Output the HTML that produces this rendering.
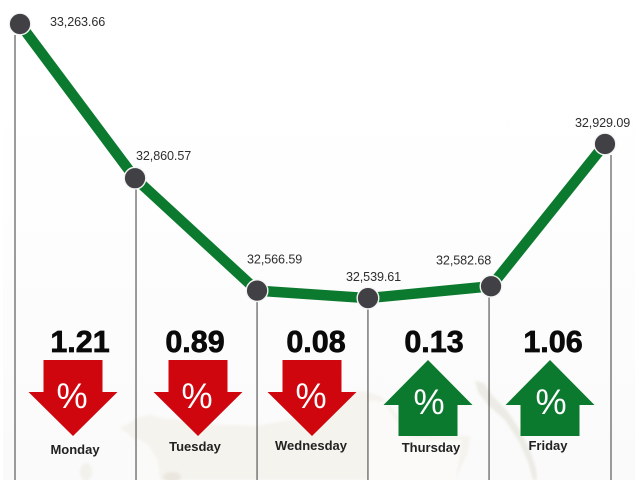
<!DOCTYPE html>
<html lang="en">
<head>
<meta charset="utf-8">
<title>Weekly index chart</title>
<style>
html,body{margin:0;padding:0;background:#fff;}
#chart{display:block;width:640px;height:480px;font-family:"Liberation Sans",sans-serif;}
</style>
</head>
<body>
<svg id="chart" width="640" height="480" viewBox="0 0 640 480" xmlns="http://www.w3.org/2000/svg">
  <defs>
    <filter id="soft" x="-5%" y="-5%" width="110%" height="110%"><feGaussianBlur stdDeviation="1.2"/></filter>
    <linearGradient id="panelFade" x1="0" y1="0" x2="0" y2="1">
      <stop offset="0" stop-color="#ffffff"/>
      <stop offset="1" stop-color="#fafafa"/>
    </linearGradient>
  </defs>
  <rect x="0" y="0" width="640" height="480" fill="#ffffff"/>
  <rect x="3" y="100" width="632" height="380" fill="url(#panelFade)"/>
  <g filter="url(#soft)">
    <path fill="#f5f3ee" d="M120 428 L128 424 L137 418 L150 415 L165 419 L185 420 L200 424 L225 425 L256 426 L290 420 L320 405 L345 393 L365 391 L382 397 L392 408 L410 432 L440 436 L470 436 L468 452 L462 465 L456 480 L160 480 L158 460 L148 445 L137 438 L130 432 Z"/>
    <path fill="#fafaf8" d="M137 440 L150 448 L158 462 L160 480 L137 480 Z"/>
    <path fill="#fbfaf8" d="M368 400 L384 402 L396 420 L410 438 L440 440 L462 440 L456 480 L368 480 Z"/>
    <path fill="#ecebe5" d="M475 381 L484 383 L492 395 L508 412 L520 430 L530 450 L536 468 L537 480 L533 480 L528 462 L518 440 L505 420 L488 405 L478 392 Z"/>
    <path fill="#f5f3ee" d="M120 428 L136 420 L136 442 L128 434 Z"/>
    <ellipse cx="86" cy="472" rx="6" ry="9" fill="#f3f1ec"/>
    <ellipse cx="172" cy="477" rx="9" ry="5" fill="#e9e7de"/>
  </g>
  <g id="dividers"></g>
  <g id="trend"></g>
  <g id="dots"></g>
  <g id="pointLabels"></g>
  <g id="changes"></g>
</svg>
<script>
// Chart data
const days = ["Monday", "Tuesday", "Wednesday", "Thursday", "Friday"];
const sessionLabels = ["33,263.66", "32,860.57", "32,566.59", "32,539.61", "32,582.68", "32,929.09"];
// Plotted levels and session times (the artwork is hand-placed).
const plottedLevels = [33263.66, 32860.57, 32566.59, 32547, 32578, 32950];
const sessionTimes = [0, 0.983, 2.026, 2.974, 4.026, 5];
const changeValues = [1.21, 0.89, 0.08, 0.13, 1.06];
const changeDirections = ["down", "down", "down", "up", "up"];

// Axis functions
function xAxis(t) { return 20 + t * 117; }
function yAxis(v) { return 24 + (33263.66 - v) * 0.3825; }

// Layout constants (not data)
const dividerShift = [-5, 1, 0, 0, -2, 6];
const labelOffsetX = [30, 1, -10, -22, -55, -30];
const labelOffsetY = [2, -18, -27, -17, -22, -17];
const changeCenters = [73, 198, 312, 428, 550];
const valueCenters = [80, 195, 316, 434, 553];
const dayCenters = [75, 195, 311, 431, 548];
const dayBaselines = [454, 451, 450, 452, 450];

const NS = "http://www.w3.org/2000/svg";
function make(parent, tag, attrs, text) {
  const el = document.createElementNS(NS, tag);
  Object.keys(attrs).forEach(function (k) { el.setAttribute(k, attrs[k]); });
  if (text !== undefined) el.textContent = text;
  parent.appendChild(el);
  return el;
}

const dividerGroup = document.getElementById("dividers");
const trendGroup = document.getElementById("trend");
const dotGroup = document.getElementById("dots");
const labelGroup = document.getElementById("pointLabels");
const changeGroup = document.getElementById("changes");

plottedLevels.forEach(function (level, i) {
  const x = xAxis(sessionTimes[i]);
  const y = yAxis(level);

  const rule = make(dividerGroup, "line", {
    x1: x + dividerShift[i], y1: y + 11, x2: x + dividerShift[i], y2: 480,
    stroke: "#3a3a3a", "stroke-width": 1
  });
  
  

  if (i > 0) {
    const seg = make(trendGroup, "line", {
      x1: xAxis(sessionTimes[i - 1]), y1: yAxis(plottedLevels[i - 1]), x2: x, y2: y,
      stroke: "#0b7a2e", "stroke-width": 10.5
    });
    
    
  }

  const dot = make(dotGroup, "circle", {
    cx: x, cy: y, r: 10.8, fill: "#404045", stroke: "#f4f4f4", "stroke-width": 1.4
  });
  
  

  const label = make(labelGroup, "text", {
    x: x + labelOffsetX[i], y: y + labelOffsetY[i],
    "font-size": 12.6, fill: "#2e2e2e", "letter-spacing": "-0.1"
  }, sessionLabels[i]);
  
  
});

function arrowPath(cx, direction) {
  if (direction === "down") {
    return "M" + (cx - 29.5) + " 360H" + (cx + 29.5) + "V392H" + (cx + 44.5) +
      "L" + cx + " 436L" + (cx - 44.5) + " 392H" + (cx - 29.5) + "Z";
  }
  return "M" + cx + " 360L" + (cx + 44.5) + " 405H" + (cx + 29.5) + "V436H" +
    (cx - 29.5) + "V405H" + (cx - 44.5) + "Z";
}

days.forEach(function (day, i) {
  const cx = changeCenters[i];
  const dir = changeDirections[i];

  const arrow = make(changeGroup, "path", {
    d: arrowPath(cx, dir),
    fill: dir === "down" ? "#d0060f" : "#0b7a2e"
  });
  
  

  const pct = make(changeGroup, "text", {
    x: dir === "down" ? cx - 1 : cx + 1, y: dir === "down" ? 408 : 414,
    "font-size": 35, fill: "#ffffff", "text-anchor": "middle"
  }, "%");
  
  

  const value = make(changeGroup, "text", {
    x: valueCenters[i], y: 352, "font-size": 30.5, "font-weight": "bold",
    fill: "#0a0a0a", stroke: "#0a0a0a", "stroke-width": 0.7, "text-anchor": "middle"
  }, changeValues[i].toFixed(2));
  
  

  const dayLabel = make(changeGroup, "text", {
    x: dayCenters[i], y: dayBaselines[i], "font-size": 13, "font-weight": "bold",
    fill: "#222222", "text-anchor": "middle"
  }, day);
  
  
});
</script>
</body>
</html>
